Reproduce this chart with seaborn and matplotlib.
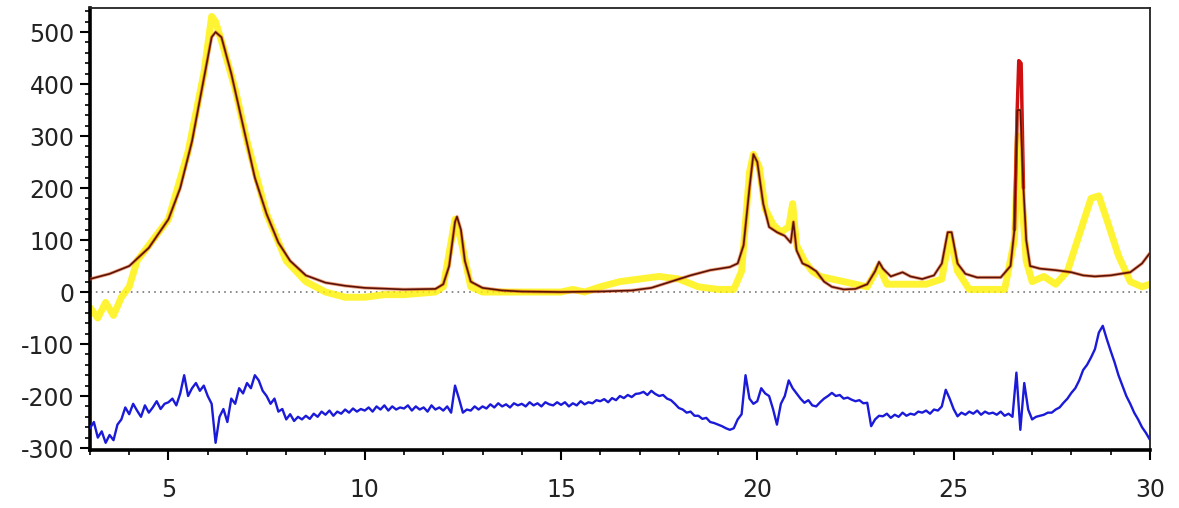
import numpy as np
import matplotlib
matplotlib.use("Agg")
import matplotlib.pyplot as plt
from matplotlib.ticker import MultipleLocator
import seaborn as sns

# calculated pattern (2theta, intensity)
calc_x = [3.0, 3.5, 4.0, 4.5, 5.0, 5.3, 5.6, 5.9, 6.1, 6.2, 6.35, 6.6, 6.9, 7.2, 7.5,
          7.8, 8.1, 8.5, 9.0, 9.5, 10.0, 11.0, 11.8, 12.0, 12.15, 12.3, 12.35, 12.45,
          12.55, 12.7, 13.0, 13.5, 14.0, 15.0, 16.0, 16.8, 17.3, 17.8, 18.3, 18.8,
          19.3, 19.5, 19.65, 19.8, 19.9, 20.0, 20.15, 20.3, 20.5, 20.7, 20.85, 20.92,
          21.0, 21.15, 21.3, 21.5, 21.7, 21.9, 22.2, 22.5, 22.8, 23.0, 23.1, 23.2,
          23.4, 23.7, 23.9, 24.2, 24.5, 24.7, 24.85, 24.95, 25.1, 25.3, 25.6, 26.2,
          26.45, 26.55, 26.62, 26.7, 26.78, 26.85, 26.95, 27.2, 27.6, 28.0, 28.3,
          28.6, 29.0, 29.5, 29.8, 30.0]
calc_y = [25, 35, 50, 85, 140, 200, 290, 410, 490, 500, 490, 420, 320, 220, 150,
          95, 60, 32, 18, 12, 8, 5, 6, 15, 50, 135, 145, 120,
          60, 20, 8, 3, 1, 0, 1, 3, 8, 20, 32, 42,
          48, 55, 90, 200, 265, 250, 170, 125, 115, 108, 95, 135,
          80, 55, 50, 40, 20, 10, 5, 6, 15, 40, 58, 45,
          30, 38, 30, 25, 32, 55, 115, 115, 55, 35, 28, 28,
          50, 120, 350, 350, 200, 100, 50, 45, 42, 38, 32,
          30, 32, 38, 55, 75]

# sharp observed peak drawn in red
spike_x = [26.55, 26.62, 26.66, 26.72, 26.78]
spike_y = [120, 350, 445, 440, 200]

# observed pattern
obs_x = [3.0, 3.2, 3.4, 3.6, 3.8, 4.0, 4.2, 4.5, 5.0, 5.5, 5.9, 6.1, 6.2, 6.4, 6.7,
         7.0, 7.5, 8.0, 8.5, 9.0, 9.5, 10.0, 10.5, 11.0, 11.8, 12.0, 12.3, 12.45,
         12.7, 13.0, 14.0, 15.0, 15.3, 15.6, 16.0, 16.5, 17.0, 17.5, 18.0, 18.5,
         19.0, 19.4, 19.6, 19.8, 19.9, 20.05, 20.2, 20.4, 20.6, 20.8, 20.9, 21.0,
         21.2, 21.4, 21.6, 21.9, 22.2, 22.5, 22.8, 23.1, 23.3, 23.8, 24.3, 24.7,
         24.9, 25.1, 25.4, 25.8, 26.3, 26.55, 26.65, 26.72, 26.85, 27.0, 27.3,
         27.6, 27.9, 28.2, 28.5, 28.7, 28.9, 29.2, 29.5, 29.8, 30.0]
obs_y = [-30, -50, -20, -45, -10, 10, 60, 90, 140, 270, 420, 530, 520, 470, 390,
         290, 150, 60, 20, 0, -10, -10, -5, -5, 0, 10, 140, 100,
         10, 0, 0, 0, 5, 0, 10, 20, 25, 30, 25, 10,
         5, 5, 40, 230, 265, 240, 160, 130, 115, 125, 170, 90,
         60, 40, 30, 25, 20, 15, 10, 50, 15, 15, 15, 25,
         110, 40, 5, 5, 5, 100, 300, 200, 60, 20, 30,
         15, 40, 110, 180, 185, 140, 70, 20, 10, 15]

# difference curve (offset), 2theta = 3.0 ... 30.0 in steps of 0.1
diff_x = np.round(np.arange(3.0, 30.001, 0.1), 1)
diff_y = [
    -262, -250, -280, -268, -290, -275, -285, -255, -245, -222,
    -235, -215, -228, -240, -218, -232, -222, -210, -225, -215,
    -212, -205, -218, -195, -160, -200, -185, -175, -190, -180,
    -200, -215, -290, -240, -225, -250, -205, -215, -185, -195,
    -175, -185, -160, -170, -190, -200, -215, -205, -230, -225,
    -245, -235, -248, -240, -245, -238, -244, -234, -240, -230,
    -236, -228, -238, -230, -234, -226, -232, -224, -230, -225,
    -228, -222, -230, -220, -226, -218, -228, -220, -226, -222,
    -224, -218, -228, -220, -226, -222, -230, -218, -226, -222,
    -228, -220, -232, -180, -205, -232, -226, -228, -220, -226,
    -220, -224, -216, -222, -214, -220, -216, -222, -214, -218,
    -215, -220, -212, -218, -214, -220, -212, -216, -218, -212,
    -217, -212, -220, -214, -218, -210, -216, -212, -214, -208,
    -210, -206, -212, -204, -208, -200, -204, -198, -202, -196,
    -195, -192, -198, -190, -196, -200, -198, -205, -208, -215,
    -223, -226, -232, -230, -238, -238, -244, -242, -250, -252,
    -255, -258, -262, -265, -262, -245, -235, -160, -205, -215,
    -210, -185, -195, -200, -225, -255, -215, -200, -170, -185,
    -195, -205, -213, -208, -218, -220, -212, -205, -200, -194,
    -200, -198, -205, -203, -207, -210, -208, -214, -213, -258,
    -245, -238, -239, -234, -242, -236, -240, -232, -238, -234,
    -236, -230, -232, -228, -234, -226, -228, -220, -188, -205,
    -225, -239, -232, -236, -230, -234, -228, -236, -230, -234,
    -232, -236, -230, -238, -234, -240, -155, -265, -175, -226,
    -245, -240, -238, -236, -232, -232, -226, -222, -213, -205,
    -194, -185, -170, -150, -140, -126, -110, -78, -65, -90,
    -113, -135, -160, -180, -200, -215, -232, -245, -260, -271,
    -284]

sns.set_style("white")
plt.rcParams['font.family'] = ['DejaVu Sans']
plt.rcParams['axes.unicode_minus'] = False

fig = plt.figure(figsize=(11.79, 5.08), dpi=100)
ax = fig.add_axes([0.0763, 0.114, 0.899, 0.870])

ax.axhline(0, color='#777777', lw=1.2, ls=(0, (1, 2.5)), zorder=1)
sns.lineplot(x=obs_x, y=obs_y, ax=ax, color='#fff200', lw=5, alpha=0.8, zorder=2)
sns.lineplot(x=spike_x, y=spike_y, ax=ax, color='#d01010', lw=2.5, zorder=3)
sns.lineplot(x=calc_x, y=calc_y, ax=ax, color='#e05010', lw=2.4, alpha=0.55, zorder=3)
sns.lineplot(x=calc_x, y=calc_y, ax=ax, color='#5a1208', lw=1.2, zorder=4)
sns.lineplot(x=diff_x, y=diff_y, ax=ax, color='#1a1ad8', lw=1.7, zorder=4)

ax.set_xlim(3, 30)
ax.set_ylim(-304, 546)
ax.xaxis.set_major_locator(MultipleLocator(5))
ax.xaxis.set_minor_locator(MultipleLocator(1))
ax.yaxis.set_major_locator(MultipleLocator(100))
ax.yaxis.set_minor_locator(MultipleLocator(20))
ax.tick_params(axis='both', which='both', bottom=True, left=True,
               top=False, right=False, direction='out', color='black')
ax.tick_params(axis='both', which='major', length=7, width=1.5,
               labelsize=17, labelcolor='#222222')
ax.tick_params(axis='both', which='minor', length=3.5, width=1.2)
ax.tick_params(axis='x', which='major', pad=13)
ax.tick_params(axis='y', which='major', pad=4)

for side in ['left', 'bottom']:
    ax.spines[side].set_linewidth(2.6)
    ax.spines[side].set_color('black')
for side in ['top', 'right']:
    ax.spines[side].set_linewidth(1.3)
    ax.spines[side].set_color('#222222')

ax.set_xlabel('')
ax.set_ylabel('')

fig.savefig('out.png', dpi=100)
